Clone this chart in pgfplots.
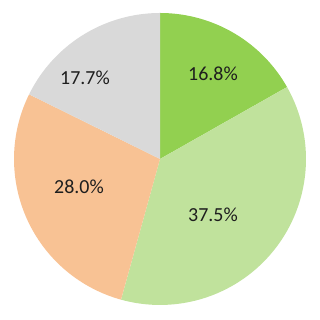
\documentclass[border=0pt]{standalone}
\usepackage{pgfplots}
\pgfplotsset{compat=1.18}
\usepackage{fontspec}
\setmainfont{Carlito}
\definecolor{s1}{HTML}{92D050}
\definecolor{s2}{HTML}{C0E29C}
\definecolor{s3}{HTML}{F8C294}
\definecolor{s4}{HTML}{D9D9D9}
\definecolor{txt}{HTML}{1E1E1E}
\begin{document}
\begin{tikzpicture}
\begin{axis}[
  scale only axis, width=320bp, height=320bp,
  xmin=-1.096, xmax=1.096, ymin=-1.103, ymax=1.089,
  hide axis, clip=false,
]
\draw[draw=none] (rel axis cs:0,0) rectangle (rel axis cs:1,1);
% values (percent): 16.8, 37.5, 28.0, 17.7 ; clockwise from 12 o'clock
% slice 1: 16.8%  -> 90 to 29.52
\addplot[fill=s1, draw=none, domain=29.52:90, samples=60] ({cos(x)},{sin(x)}) -- (0,0) -- cycle;
% slice 2: 37.5%  -> 29.52 to -105.48
\addplot[fill=s2, draw=none, domain=-105.48:29.52, samples=120] ({cos(x)},{sin(x)}) -- (0,0) -- cycle;
% slice 3: 28.0%  -> -105.48 to -206.28
\addplot[fill=s3, draw=none, domain=-206.28:-105.48, samples=100] ({cos(x)},{sin(x)}) -- (0,0) -- cycle;
% slice 4: 17.7%  -> -206.28 to -270
\addplot[fill=s4, draw=none, domain=-270:-206.28, samples=60] ({cos(x)},{sin(x)}) -- (0,0) -- cycle;
\addplot[only marks, mark=none, nodes near coords, point meta=explicit symbolic,
  every node near coord/.style={anchor=center, text=txt, font=\fontsize{20}{24}\selectfont}]
  table[meta=lab] {
  x y lab
  0.363 0.582 16.8\%
  0.363 -0.384 37.5\%
  -0.555 -0.192 28.0\%
  -0.514 0.555 17.7\%
};
\end{axis}
\end{tikzpicture}
\end{document}
